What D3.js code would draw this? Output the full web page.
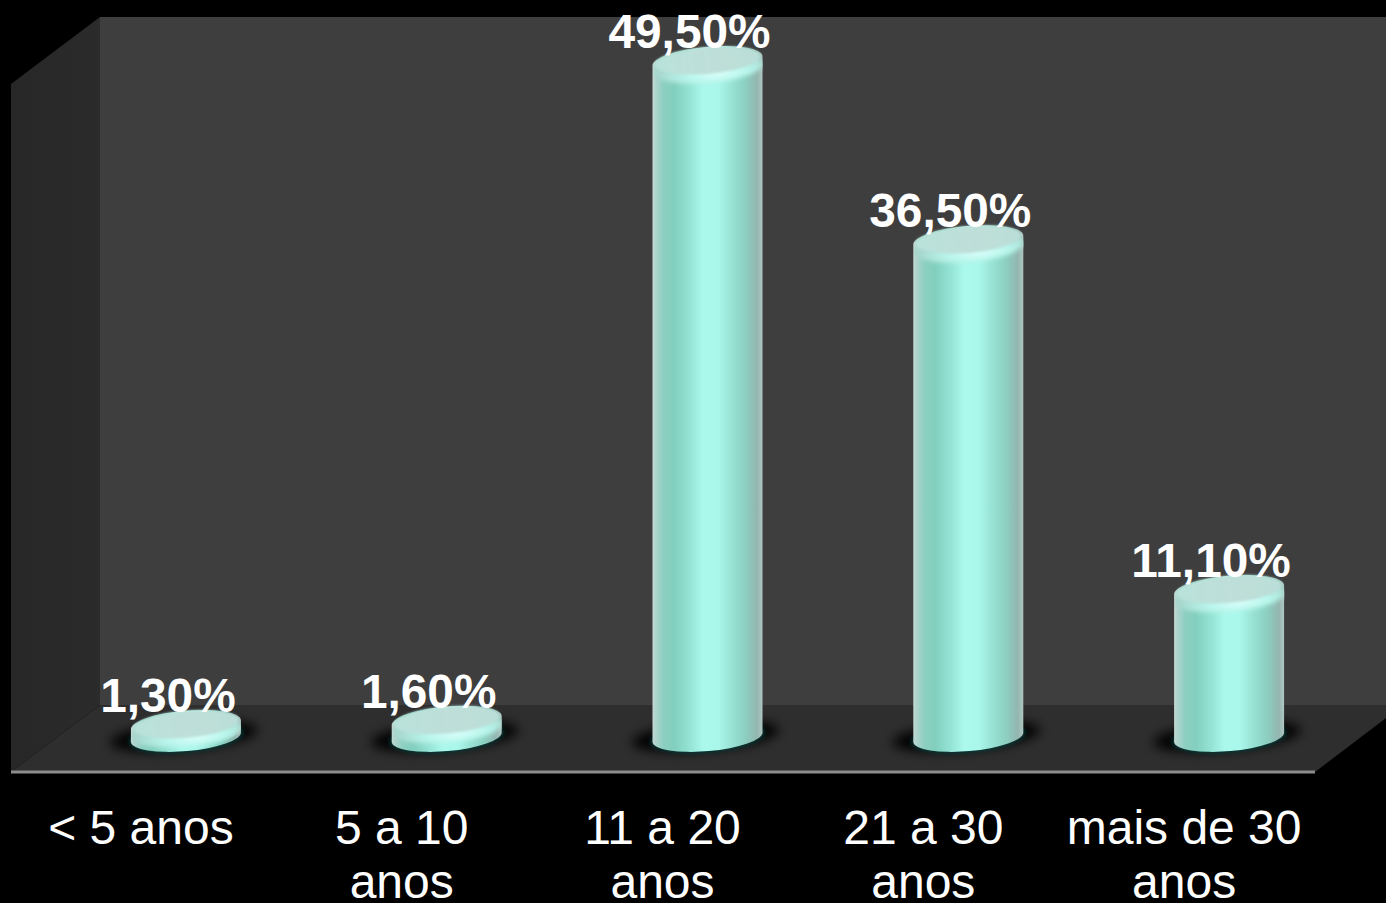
<!DOCTYPE html>
<html>
<head>
<meta charset="utf-8">
<script src="https://cdn.jsdelivr.net/npm/d3@7"></script>
<style>
    html, body { margin: 0; padding: 0; background: #000; overflow: hidden; }
    svg { display: block; }
</style>
</head>
<body>
<div id="the_chart"></div>
<script>
var categories = ["< 5 anos", "5 a 10 anos", "11 a 20 anos", "21 a 30 anos", "mais de 30 anos"];
var tickLines = [["< 5 anos"], ["5 a 10", "anos"], ["11 a 20", "anos"], ["21 a 30", "anos"], ["mais de 30", "anos"]];
var values = [1.3, 1.6, 49.5, 36.5, 11.1];
var valueLabels = ["1,30%", "1,60%", "49,50%", "36,50%", "11,10%"];

var w = 1386;
var h = 903;

// front edge of the floor and how far the box goes back
var x0 = 11, x1 = 1315, yFront = 772;
var depthX = 89, depthY = 67;
var wallTop = 17;

var rx = 55, ry = 14, tilt = -5;
var tiltDy = 4.8;
var capOffset = 15;

var svg = d3.select("#the_chart")
    .append("svg")
    .attr("width", w)
    .attr("height", h);

var xscale = d3.scaleBand()
    .domain(categories)
    .range([x0, x1]);

var yscale = d3.scaleLinear()
    .domain([0, 50])
    .range([727.6, 39]);

var defs = svg.append("defs");

function gradient(id, stops) {
    var g = defs.append("linearGradient").attr("id", id);
    stops.forEach(function (s) {
        g.append("stop").attr("offset", s[0]).attr("stop-color", s[1]);
    });
    return g;
}

gradient("wallLeft", [[0, "#272727"], [1, "#2b2b2b"]]);
gradient("body", [
    [0, "#c4d8d3"], [0.03, "#aed4cc"], [0.1, "#8ccfc1"], [0.2, "#82cfbf"],
    [0.34, "#94e4d5"], [0.46, "#abf8ec"], [0.6, "#a9f6ea"], [0.72, "#98e2d4"],
    [0.84, "#8cd0c2"], [0.95, "#93b6af"], [1, "#b0c6c1"]
]);
gradient("cap", [[0, "#b8e2da"], [0.5, "#bfdfd9"], [1, "#badfd8"]]);

var glow = defs.append("radialGradient").attr("id", "rim")
    .attr("cx", 0.58).attr("cy", 0.7).attr("r", 0.55);
glow.append("stop").attr("offset", 0).attr("stop-color", "#dcfffb");
glow.append("stop").attr("offset", 0.5).attr("stop-color", "#b8f6ec");
glow.append("stop").attr("offset", 1).attr("stop-color", "#a8d8ce");

defs.append("filter").attr("id", "blur6")
    .attr("x", "-30%").attr("y", "-60%").attr("width", "160%").attr("height", "220%")
    .append("feGaussianBlur").attr("stdDeviation", 6);
defs.append("filter").attr("id", "blur2")
    .attr("x", "-20%").attr("y", "-40%").attr("width", "140%").attr("height", "180%")
    .append("feGaussianBlur").attr("stdDeviation", 2);
defs.append("filter").attr("id", "blur1")
    .attr("x", "-10%").attr("y", "-20%").attr("width", "120%").attr("height", "140%")
    .append("feGaussianBlur").attr("stdDeviation", 0.8);

// the box
svg.append("rect")
    .attr("x", x0 + depthX)
    .attr("y", wallTop)
    .attr("width", w - x0 - depthX)
    .attr("height", yFront - depthY - wallTop)
    .attr("fill", "#3e3e3e");

svg.append("polygon")
    .attr("points", [[x0, wallTop + depthY], [x0 + depthX, wallTop], [x0 + depthX, yFront - depthY], [x0, yFront]].join(" "))
    .attr("fill", "url(#wallLeft)");

svg.append("polygon")
    .attr("points", [[x0, yFront], [x0 + depthX, yFront - depthY], [w, yFront - depthY], [w, yFront - 54], [x1, yFront]].join(" "))
    .attr("fill", "#2e2e2e");

svg.append("line")
    .attr("x1", x0).attr("x2", x1)
    .attr("y1", yFront).attr("y2", yFront)
    .attr("stroke", "#8c8c8c")
    .attr("stroke-width", 3);

// value axis is not shown, the category axis only carries the labels
var xaxis = d3.axisBottom()
    .scale(xscale)
    .tickSize(0)
    .tickPadding(0);

var gX = svg.append("g")
    .attr("transform", "translate(0," + yFront + ")")
    .call(xaxis);

gX.select(".domain").remove();

gX.selectAll("text").each(function (d, i) {
    var t = d3.select(this);
    t.text(null)
        .attr("y", null)
        .attr("dy", null)
        .attr("fill", "#fff")
        .attr("font-family", "'Liberation Sans', Arial, sans-serif")
        .attr("font-size", 48)
        .attr("text-anchor", "middle");
    tickLines[i].forEach(function (line, k) {
        t.append("tspan")
            .attr("x", -0.5)
            .attr("y", 71.5 + k * 54.5)
            .text(line);
    });
});

function barX(i) {
    return xscale(categories[i]) + xscale.bandwidth() / 2 + 44.5;
}

var yBase = yscale(0) + 9.5;

function bodyPath(d, i) {
    var cx = barX(i);
    var cy = yscale(d) + capOffset;
    return "M" + (cx - rx) + "," + (yBase + tiltDy)
        + "A" + rx + "," + ry + " " + tilt + " 0 0 " + (cx + rx) + "," + (yBase - tiltDy)
        + "L" + (cx + rx) + "," + (cy - tiltDy)
        + "A" + rx + "," + ry + " " + tilt + " 0 0 " + (cx - rx) + "," + (cy + tiltDy)
        + "Z";
}

var bars = svg.selectAll("g.bar")
    .data(values)
    .enter().append("g")
    .attr("class", "bar");

// shadow on the floor
bars.append("ellipse")
    .attr("cx", function (d, i) { return barX(i) - 2; })
    .attr("cy", yBase - 1)
    .attr("rx", rx + 19)
    .attr("ry", ry)
    .attr("transform", function (d, i) { return "rotate(" + tilt + " " + barX(i) + " " + yBase + ")"; })
    .attr("fill", "#000")
    .attr("filter", "url(#blur6)");

bars.append("ellipse")
    .attr("cx", function (d, i) { return barX(i); })
    .attr("cy", yBase)
    .attr("rx", rx + 2)
    .attr("ry", ry + 1)
    .attr("transform", function (d, i) { return "rotate(" + tilt + " " + barX(i) + " " + yBase + ")"; })
    .attr("fill", "#07433f")
    .attr("filter", "url(#blur2)");

bars.append("clipPath")
    .attr("id", function (d, i) { return "clip" + i; })
    .append("path")
    .attr("d", bodyPath);

bars.append("path")
    .attr("d", bodyPath)
    .attr("fill", "url(#body)");

// light rim under the top face
bars.append("ellipse")
    .attr("clip-path", function (d, i) { return "url(#clip" + i + ")"; })
    .attr("cx", function (d, i) { return barX(i); })
    .attr("cy", function (d) { return yscale(d) + capOffset + 7; })
    .attr("rx", rx)
    .attr("ry", ry + 1.5)
    .attr("transform", function (d, i) { return "rotate(" + tilt + " " + barX(i) + " " + (yscale(d) + capOffset) + ")"; })
    .attr("fill", "url(#rim)")
    .attr("filter", "url(#blur2)");

bars.append("ellipse")
    .attr("cx", function (d, i) { return barX(i); })
    .attr("cy", function (d) { return yscale(d) + capOffset - 0.5; })
    .attr("rx", rx - 2)
    .attr("ry", ry - 0.5)
    .attr("transform", function (d, i) { return "rotate(" + tilt + " " + barX(i) + " " + (yscale(d) + capOffset) + ")"; })
    .attr("fill", "url(#cap)")
    .attr("filter", "url(#blur1)");

// labels go over the bars
svg.selectAll("text.value")
    .data(values)
    .enter().append("text")
    .attr("class", "value")
    .attr("x", function (d, i) { return barX(i) - 18; })
    .attr("y", function (d) { return yscale(d) + 2.5; })
    .attr("text-anchor", "middle")
    .attr("fill", "#fff")
    .attr("font-family", "'Liberation Sans', Arial, sans-serif")
    .attr("font-weight", "bold")
    .attr("font-size", 47.8)
    .text(function (d, i) { return valueLabels[i]; });
</script>
</body>
</html>
